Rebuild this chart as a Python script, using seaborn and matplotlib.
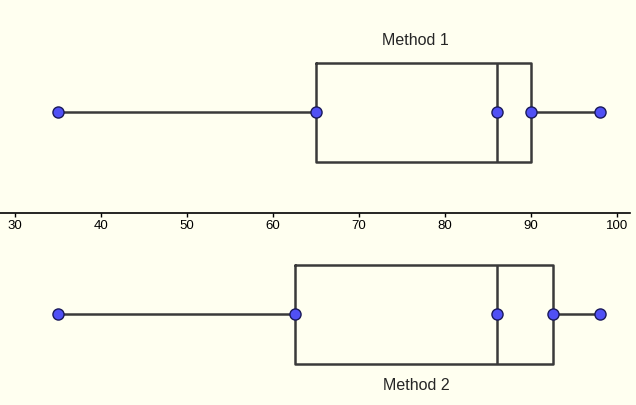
import pandas as pd
import matplotlib
matplotlib.use("Agg")
import matplotlib.pyplot as plt
import seaborn as sns

# five-number summaries
methods = ["Method 1", "Method 2"]
method1_values = [35, 65, 86, 90, 98]
method2_values = [35, 62.5, 86, 92.5, 98]
x_ticks = [30, 40, 50, 60, 70, 80, 90, 100]

df = pd.DataFrame({
    "method": [methods[0]] * len(method1_values) + [methods[1]] * len(method2_values),
    "score": method1_values + method2_values,
})

sns.set_style("white")
plt.rcParams["font.family"] = ["Liberation Sans", "DejaVu Sans"]

bg = "#fffff0"
line_col = "#3a3a3a"

fig = plt.figure(figsize=(6.36, 4.06), dpi=100, facecolor=bg)
ax = fig.add_axes([0, 0, 1, 1])
ax.set_facecolor(bg)

sns.boxplot(data=df, x="score", y="method", order=methods, orient="h",
            whis=(0, 100), width=0.49, fill=False, color=line_col,
            linewidth=1.8, showcaps=False, ax=ax,
            medianprops={"color": line_col, "linewidth": 1.8})
sns.stripplot(data=df, x="score", y="method", order=methods, orient="h",
              jitter=False, size=8, color="#5050f5", edgecolor="#1a1a5a",
              linewidth=1, ax=ax, zorder=5)

ax.set_xlim(28.25, 102.2)
ax.set_ylim(1.45, -0.56)

# axis line between the two boxes
for side in ["top", "right", "left"]:
    ax.spines[side].set_visible(False)
ax.spines["bottom"].set_position(("data", 0.5))
ax.spines["bottom"].set_bounds(28.25, 101.5)
ax.spines["bottom"].set_linewidth(1.2)
ax.spines["bottom"].set_color("black")
ax.set_xticks(x_ticks)
ax.set_xticklabels([str(t) for t in x_ticks])
ax.tick_params(axis="x", bottom=True, direction="out", length=3, width=1,
               color="black", labelsize=9.5, pad=1.5, labelcolor="black")
ax.set_yticks([])
ax.set_xlabel("")
ax.set_ylabel("")

ax.text(76.6, -0.36, "Method 1", ha="center", va="center", fontsize=11.5)
ax.text(76.6, 1.35, "Method 2", ha="center", va="center", fontsize=11.5)

fig.savefig("out.png", dpi=100, facecolor=bg)
